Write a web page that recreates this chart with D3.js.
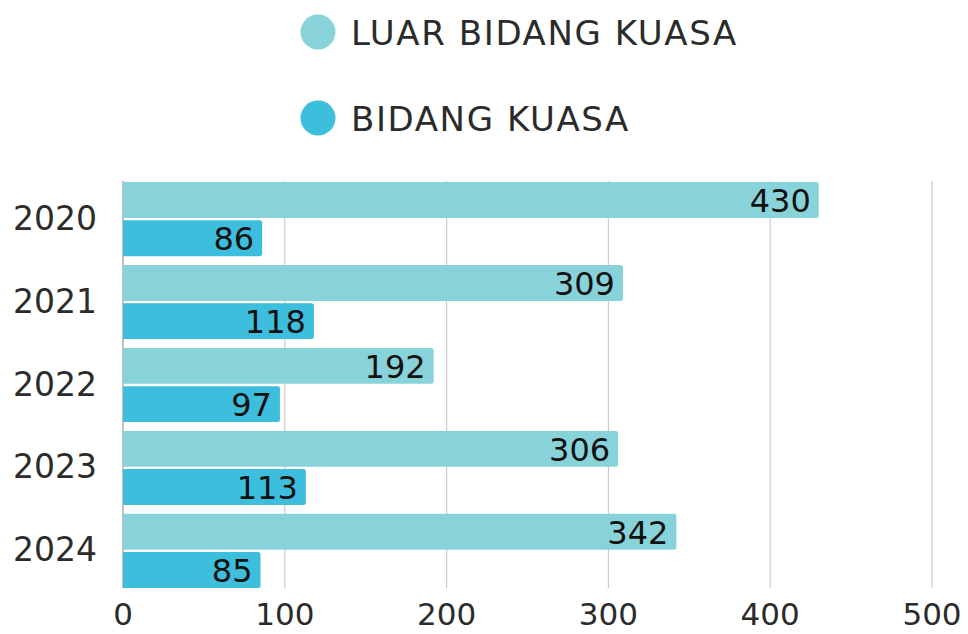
<!DOCTYPE html>
<html><head><meta charset="utf-8">
<script src="https://cdn.jsdelivr.net/npm/d3@7"></script>
<style>body{margin:0;background:#fff;} svg{display:block;}</style>
</head><body>
<svg id="c" width="968" height="634"></svg>
<script>
const years = ["2020","2021","2022","2023","2024"];
const seriesNames = ["LUAR BIDANG KUASA","BIDANG KUASA"];
const luarValues = [430,309,192,306,342];
const bidangValues = [86,118,97,113,85];
const xTicks = [0,100,200,300,400,500];
const colors = ["#88D3DA","#3DBEDC"];

const font = "'DejaVu Sans', sans-serif";
const svg = d3.select("#c");
const x = d3.scaleLinear().domain([0,500]).range([123,932]);
const y0 = d3.scaleBand().domain(years).range([177.6,592.4]).paddingInner(0.106).paddingOuter(0.053);
const y1 = d3.scaleBand().domain([0,1]).range([0,y0.bandwidth()]).paddingInner(0.06);

// grid
svg.append("g").selectAll("line").data(xTicks.slice(1)).join("line")
  .attr("x1",d=>x(d)).attr("x2",d=>x(d)).attr("y1",181).attr("y2",588)
  .attr("stroke","#cccccc").attr("stroke-width",1.2);
svg.append("line").attr("x1",x(0)).attr("x2",x(0)).attr("y1",181).attr("y2",588)
  .attr("stroke","#999").attr("stroke-width",1.2);

const data = years.map((yr,i)=>({yr, vals:[luarValues[i],bidangValues[i]]}));
const g = svg.append("g").selectAll("g").data(data).join("g")
  .attr("transform",d=>`translate(0,${y0(d.yr)})`);
g.selectAll("path").data(d=>d.vals.map((v,k)=>({v,k}))).join("path")
  .attr("fill",d=>colors[d.k])
  .attr("d",d=>{
    const x0=x(0), x1=x(d.v), yt=y1(d.k), h=y1.bandwidth(), r=2.5;
    return `M${x0},${yt}H${x1-r}Q${x1},${yt} ${x1},${yt+r}V${yt+h-r}Q${x1},${yt+h} ${x1-r},${yt+h}H${x0}Z`;
  });
g.selectAll("text").data(d=>d.vals.map((v,k)=>({v,k}))).join("text")
  .attr("x",d=>x(d.v)-8).attr("y",d=>y1(d.k)+y1.bandwidth()/2+1)
  .attr("text-anchor","end").attr("dominant-baseline","central")
  .attr("font-family",font).attr("font-size",32).attr("fill","#111")
  .text(d=>d.v);

// year labels
svg.append("g").selectAll("text").data(years).join("text")
  .attr("x",97).attr("y",d=>y0(d)+y0.bandwidth()/2-1)
  .attr("text-anchor","end").attr("dominant-baseline","central")
  .attr("font-family",font).attr("font-size",33).attr("fill","#2b2b2b")
  .text(d=>d);

// x tick labels
svg.append("g").selectAll("text").data(xTicks).join("text")
  .attr("x",d=>x(d)).attr("y",614)
  .attr("text-anchor","middle").attr("dominant-baseline","central")
  .attr("font-family",font).attr("font-size",31).attr("fill","#2b2b2b")
  .text(d=>d);

// legend
const leg = svg.append("g").selectAll("g").data(seriesNames).join("g")
  .attr("transform",(d,i)=>`translate(0,${32+i*86})`);
leg.append("circle").attr("cx",318).attr("cy",0).attr("r",17.5).attr("fill",(d,i)=>colors[i]);
leg.append("text").attr("x",351).attr("y",1).attr("dominant-baseline","central")
  .attr("font-family",font).attr("font-size",34).attr("letter-spacing",1.6).attr("fill","#2b2b2b")
  .text(d=>d);
</script>
</body></html>
